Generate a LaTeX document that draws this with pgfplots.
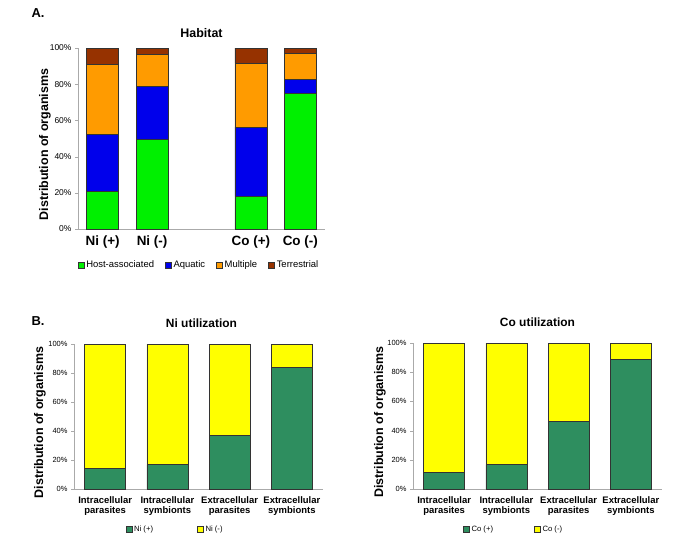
\documentclass[border=0pt]{standalone}
\usepackage{fontspec}
\setmainfont{Liberation Sans}
\usepackage{pgfplots}
\pgfplotsset{compat=1.18}
\definecolor{hostgreen}{RGB}{0,240,0}
\definecolor{aquablue}{RGB}{0,0,235}
\definecolor{multorange}{RGB}{255,155,0}
\definecolor{terrbrown}{RGB}{150,50,0}
\definecolor{plusgreen}{RGB}{46,142,95}
\definecolor{minusyellow}{RGB}{255,255,0}
\definecolor{axgray}{RGB}{170,170,170}

\pgfplotsset{
  excelbar/.style={
    scale only axis, anchor=south west,
    ybar stacked, ymin=0, ymax=100,
    axis x line*=bottom, axis y line*=left,
    axis line style={axgray, line width=0.6pt},
    ytick={0,20,40,60,80,100},
    yticklabels={0\%,20\%,40\%,60\%,80\%,100\%},
    tick align=outside, major tick length=3bp, minor tick length=3bp,
    ytick style={axgray},
    xtick style={draw=none},
    minor tick style={axgray},
    every axis plot/.append style={draw=black!80, line width=0.5pt},
    legend cell align=left,
    legend image code/.code={\draw[#1] (0bp,-3bp) rectangle (6bp,3bp);},
    legend style={draw=none, fill=none, anchor=center},
  },
}

\begin{document}
\begin{tikzpicture}
\useasboundingbox (0,0) rectangle (685bp,-536bp);

\node[font=\bfseries\fontsize{13}{15}\selectfont] at (38bp,-13bp) {A.};
\node[font=\bfseries\fontsize{13}{15}\selectfont] at (38bp,-321bp) {B.};

% Panel A: habitat
\begin{axis}[excelbar,
  at={(78bp,-229bp)}, width=247bp, height=181bp,
  bar width=32bp,
  xmin=-0.5, xmax=4.5,
  xtick={0,1,3,4},
  xticklabels={Ni (+),Ni (-),Co (+),Co (-)},
  minor xtick={0.5,1.5,2.5,3.5},
  yticklabel style={font=\fontsize{8.5}{10}\selectfont},
  xticklabel style={font=\bfseries\fontsize{13.5}{15}\selectfont},
  title={Habitat},
  title style={font=\bfseries\fontsize{12.5}{14}\selectfont, yshift=1bp},
  ylabel={Distribution of organisms},
  ylabel style={font=\bfseries\fontsize{12.5}{14}\selectfont, at={(axis description cs:-0.134,0.467)}, anchor=center},
  legend columns=4,
  legend style={at={(axis description cs:0.49,-0.199)}, font=\fontsize{9.5}{11}\selectfont,
    /tikz/every even column/.append style={column sep=9bp}},
]
\addplot[fill=hostgreen] coordinates {(0,20.7) (1,49.5) (3,18.2) (4,75.0)};
\addlegendentry{Host-associated}
\addplot[fill=aquablue] coordinates {(0,31.6) (1,29.2) (3,38.1) (4,7.8)};
\addlegendentry{Aquatic}
\addplot[fill=multorange] coordinates {(0,38.5) (1,17.6) (3,35.4) (4,14.1)};
\addlegendentry{Multiple}
\addplot[fill=terrbrown] coordinates {(0,9.2) (1,3.7) (3,8.3) (4,3.1)};
\addlegendentry{Terrestrial}
\end{axis}

% Panel B left: Ni utilization
\begin{axis}[excelbar,
  at={(74bp,-489bp)}, width=249bp, height=145bp,
  bar width=41bp,
  xmin=-0.5, xmax=3.5,
  xtick={0,1,2,3},
  xticklabels={{Intracellular\\parasites},{Intracellular\\symbionts},{Extracellular\\parasites},{Extracellular\\symbionts}},
  minor xtick={0.5,1.5,2.5},
  yticklabel style={font=\fontsize{7.5}{9}\selectfont},
  xticklabel style={font=\bfseries\fontsize{9.5}{10.5}\selectfont, align=center, yshift=-1bp},
  title={Ni utilization},
  title style={font=\bfseries\fontsize{12}{14}\selectfont, yshift=7bp, xshift=3bp},
  ylabel={Distribution of organisms},
  ylabel style={font=\bfseries\fontsize{12.5}{14}\selectfont, at={(axis description cs:-0.1365,0.459)}, anchor=center},
  legend columns=2,
  legend style={at={(axis description cs:0.406,-0.276)}, font=\fontsize{7.7}{9}\selectfont,
    /tikz/every even column/.append style={column sep=42bp}},
]
\addplot[fill=plusgreen] coordinates {(0,14.4) (1,16.9) (2,37.1) (3,83.8)};
\addlegendentry{Ni (+)}
\addplot[fill=minusyellow] coordinates {(0,85.6) (1,83.1) (2,62.9) (3,16.2)};
\addlegendentry{Ni (-)}
\end{axis}

% Panel B right: Co utilization
\begin{axis}[excelbar,
  at={(413bp,-489bp)}, width=249bp, height=146bp,
  bar width=41bp,
  xmin=-0.5, xmax=3.5,
  xtick={0,1,2,3},
  xticklabels={{Intracellular\\parasites},{Intracellular\\symbionts},{Extracellular\\parasites},{Extracellular\\symbionts}},
  minor xtick={0.5,1.5,2.5},
  yticklabel style={font=\fontsize{7.5}{9}\selectfont},
  xticklabel style={font=\bfseries\fontsize{9.5}{10.5}\selectfont, align=center, yshift=-1bp},
  title={Co utilization},
  title style={font=\bfseries\fontsize{12}{14}\selectfont, yshift=7bp},
  ylabel={Distribution of organisms},
  ylabel style={font=\bfseries\fontsize{12.5}{14}\selectfont, at={(axis description cs:-0.1325,0.459)}, anchor=center},
  legend columns=2,
  legend style={at={(axis description cs:0.404,-0.276)}, font=\fontsize{7.7}{9}\selectfont,
    /tikz/every even column/.append style={column sep=39bp}},
]
\addplot[fill=plusgreen] coordinates {(0,11.4) (1,16.7) (2,46.5) (3,89.0)};
\addlegendentry{Co (+)}
\addplot[fill=minusyellow] coordinates {(0,88.6) (1,83.3) (2,53.5) (3,11.0)};
\addlegendentry{Co (-)}
\end{axis}
\end{tikzpicture}
\end{document}
